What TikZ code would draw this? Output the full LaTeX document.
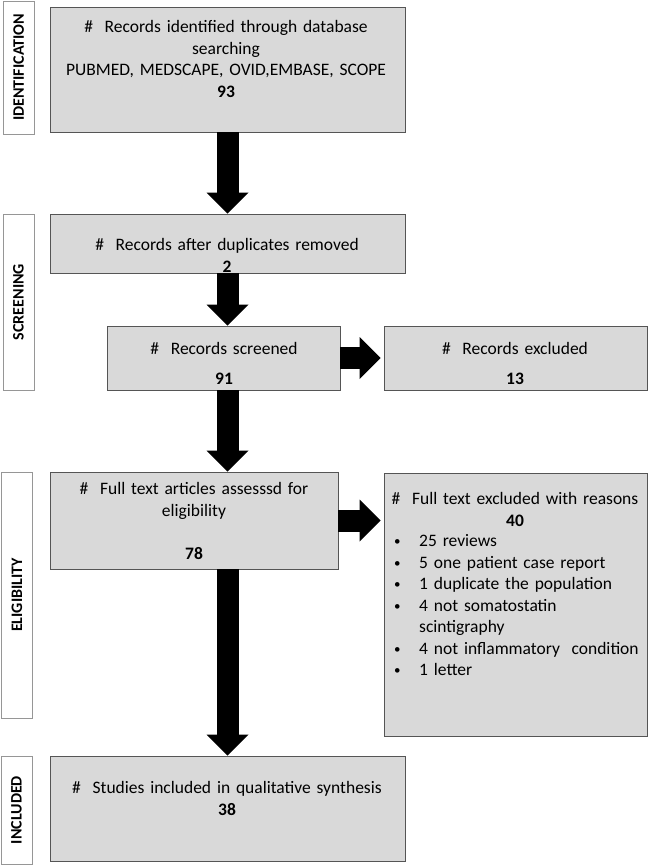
\documentclass[tikz,border=0pt]{standalone}
\usepackage{fontspec}
\setmainfont{Carlito}
\usepackage{tikz}
\usetikzlibrary{calc}
\usetikzlibrary{arrows.meta}
\usepackage{color}
\definecolor{boxfill}{RGB}{217, 217, 217}
\definecolor{boxline}{RGB}{85, 85, 85}
\definecolor{stageline}{RGB}{150, 150, 150}
\newcommand{\reasonitem}[1]{\makebox[25pt][l]{\raisebox{1pt}{\fontsize{13}{13}\selectfont\textbullet}}#1}

\begin{document}
\begin{tikzpicture}[x=1pt, y=1pt,
        box/.style={draw=boxline, fill=boxfill, line width=0.8pt, inner sep=0pt},
        stage/.style={draw=stageline, fill=white, line width=0.8pt, rotate=90, inner sep=0pt,
                      font=\fontsize{16}{18}\selectfont\bfseries},
        txt/.style={anchor=base, align=center, inner sep=0pt, text width=#1,
                    font=\fontsize{17.5}{21.5}\selectfont},
        reasons/.style={anchor=base west, align=left, inner sep=0pt, text width=250,
                        font=\fontsize{17.5}{21.5}\selectfont},
        flow/.style={line width=22pt, -{Triangle[width=42pt, length=21pt, line width=0pt]}}]
            \useasboundingbox (0, 0) rectangle (649, -866);
            % Stage labels
            \node[stage, minimum width=133, minimum height=31] (identstage) at (18.8, -67.5)  {IDENTIFICATION};
            \node[stage, minimum width=176, minimum height=31] (screenstage) at (18.5, -302)  {SCREENING};
            \node[stage, minimum width=246, minimum height=31] (eligstage)   at (17.0, -595)  {ELIGIBILITY};
            \node[stage, minimum width=108, minimum height=31] (inclstage)   at (16.5, -810)  {INCLUDED};
            % Boxes
            \node[box, minimum width=355,   minimum height=125] (identbox)   at (227.5,  -69.5) {};
            \node[box, minimum width=355,   minimum height=59]  (duplbox)    at (227.5, -243.5) {};
            \node[box, minimum width=233,   minimum height=64]  (screenbox)  at (223.5, -358)   {};
            \node[box, minimum width=263.5, minimum height=64]  (exclbox)    at (515.75, -358)  {};
            \node[box, minimum width=288,   minimum height=97]  (eligbox)    at (194, -520.5)   {};
            \node[box, minimum width=263.5, minimum height=263] (reasonbox)  at (515.75, -604.5) {};
            \node[box, minimum width=355,   minimum height=105] (inclbox)    at (227.5, -808.5) {};
            % Box texts
            \node[txt=340] (identtxt)  at (226, -33)    {\#~~Records identified through database\\searching\\PUBMED, MEDSCAPE, OVID,EMBASE, SCOPE\\\textbf{93}};
            \node[txt=340] (dupltxt)   at (227, -251)   {\#~~Records after duplicates removed\\\textbf{2}};
            \node[txt=220] (screentxt) at (224, -354)   {\#~~Records screened\\[8.5pt]\textbf{91}};
            \node[txt=250] (excltxt)   at (515, -354)   {\#~~Records excluded\\[8.5pt]\textbf{13}};
            \node[txt=280] (eligtxt)   at (194, -494.5) {\#~~Full text articles assesssd for\\eligibility\\[21.5pt]\textbf{78}};
            \node[txt=255] (reasontxt) at (515, -504.5) {\#~~Full text excluded with reasons\\\textbf{40}};
            \node[reasons] (reasonlist) at (394, -546.5) {\reasonitem{25 reviews}\\
                                                          \reasonitem{5 one patient case report}\\
                                                          \reasonitem{1 duplicate the population}\\
                                                          \reasonitem{4 not somatostatin}\\
                                                          \hspace*{25pt}scintigraphy\\
                                                          \reasonitem{4 not inflammatory~~condition}\\
                                                          \reasonitem{1 letter}};
            \node[txt=340] (incltxt)   at (227, -793.5) {\#~~Studies included in qualitative synthesis\\\textbf{38}};
            % Flow arrows
            \draw[flow] (identbox.south) -- (duplbox.north);
            \draw[flow] (duplbox.south) -- (duplbox.south |- screenbox.north);
            \draw[flow, shorten >=3pt] (screenbox.east) -- (exclbox.west);
            \draw[flow] (duplbox.south |- screenbox.south) -- (duplbox.south |- eligbox.north);
            \draw[flow, shorten >=3pt] (eligbox.east) -- (eligbox.east -| reasonbox.west);
            \draw[flow] (duplbox.south |- eligbox.south) -- (inclbox.north);
\end{tikzpicture}
\end{document}
